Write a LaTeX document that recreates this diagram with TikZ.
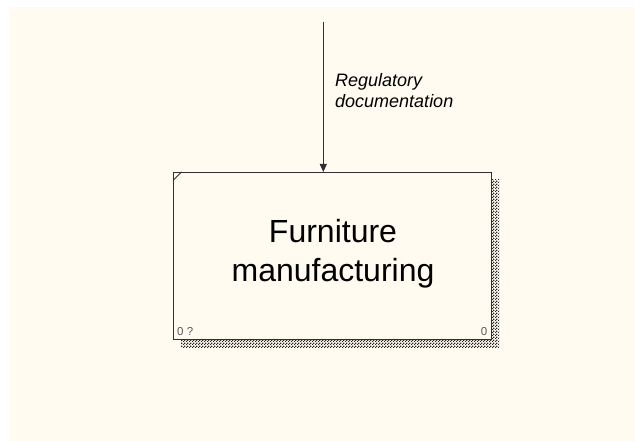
\documentclass[tikz,border=0pt]{standalone}
\usepackage{fontspec}
\setmainfont{Liberation Sans}
\usetikzlibrary{patterns.meta,arrows.meta}
\definecolor{cream}{HTML}{FFFBF0}
\definecolor{edge}{HTML}{303030}
\tikzdeclarepattern{
  name=checkdots,
  type=uncolored,
  bounding box={(0,0) and (3pt,3pt)},
  tile size={(3pt,3pt)},
  code={
    \fill (0,0) rectangle (1.6pt,1.6pt);
    \fill (1.5pt,1.5pt) rectangle (3pt,3pt);
  }
}
\begin{document}
\begin{tikzpicture}[x=1pt,y=-1pt,
  boxline/.style={draw=edge,line width=1.2pt},
  shadowfill/.style={pattern=checkdots,pattern color=black!85},
  arrowline/.style={draw=edge,line width=1pt,-{Triangle[length=8pt,width=7pt]}},
  labeltext/.style={font=\fontsize{18}{21}\selectfont\itshape,anchor=base west,inner sep=0pt},
  maintext/.style={font=\fontsize{32}{38}\selectfont,anchor=base,inner sep=0pt},
  smalltext/.style={font=\fontsize{11.5}{13}\selectfont,text=black!65,inner sep=0pt}]
\useasboundingbox (0,0) rectangle (635,441);
\fill[white] (0,0) rectangle (635,441);
\fill[cream] (10,7) rectangle (635,441);
% shadow
\fill[shadowfill] (181,180) rectangle (499,347);
% box
\node[boxline,fill=cream,minimum width=318pt,minimum height=167pt,inner sep=0pt,anchor=north west] (box) at (173,172) {};
\draw[edge,line width=0.9pt] ([yshift=-8.5pt]box.north west) -- ([xshift=8.5pt]box.north west);
\node[maintext] (t1) at (333,242) {Furniture};
\node[maintext] (t2) at (333,281) {manufacturing};
\node[smalltext,anchor=base west] (num) at (177,335) {0 ?};
\node[smalltext,anchor=base east] (nr) at (487.5,335) {0};
% arrow
\coordinate (src) at (323.3,22);
\draw[arrowline] (src) -- (src |- box.north);
\node[labeltext] (l1) at (335,87) {Regulatory};
\node[labeltext] (l2) at (335,108) {documentation};
\end{tikzpicture}
\end{document}
